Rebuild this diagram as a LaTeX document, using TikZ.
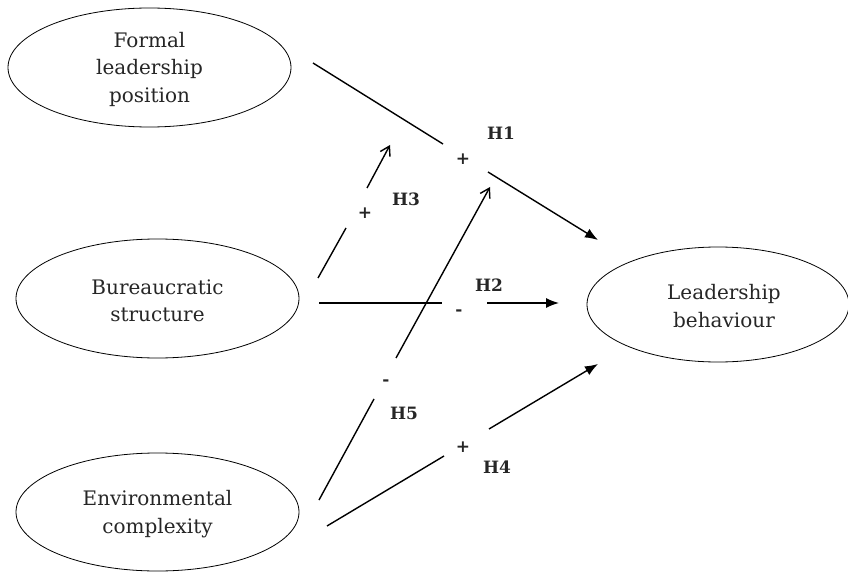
\documentclass[tikz,border=0pt]{standalone}
\usepackage{fontspec}
\setmainfont{DejaVu Serif}
\usetikzlibrary{arrows.meta}
\begin{document}
\begin{tikzpicture}[x=1pt,y=-1pt,
  ring/.style={line width=0.8pt},
  label/.style={align=center, text=black!85, font=\fontsize{20}{27.5}\selectfont},
  path/.style={line width=1.4pt},
  solidtip/.style={path, -{Latex[length=13pt,width=10pt]}},
  opentip/.style={path, -{Straight Barb[length=9pt,width=11pt]}},
  hyp/.style={text=black!85, font=\fontsize{17}{18}\selectfont\bfseries},
  sign/.style={text=black!85, font=\fontsize{17}{18}\selectfont\bfseries}]
\useasboundingbox (0,0) rectangle (848,572);
% constructs
\draw[ring] (149.5,67.5) ellipse [x radius=141.5, y radius=59.5];
\node[label] (flp) at (149.5,69) {Formal\\leadership\\position};
\draw[ring] (157.5,298.5) ellipse [x radius=141.5, y radius=59.5];
\node[label] (bs) at (157.5,301) {Bureaucratic\\structure};
\draw[ring] (157.5,512) ellipse [x radius=141.5, y radius=59];
\node[label] (ec) at (157.5,514) {Environmental\\complexity};
\draw[ring] (718,304.5) ellipse [x radius=131, y radius=57.5];
\node[label] (lb) at (724,306) {Leadership\\behaviour};
% H1
\coordinate (h1a) at (313,63); \coordinate (h1b) at (443,144);
\coordinate (h1c) at (488,172); \coordinate (h1d) at (598,240);
\draw[path] (h1a) -- (h1b);
\draw[solidtip] (h1c) -- (h1d);
\node[sign] (s1) at (463,159) {+};
\node[hyp] (H1) at (501,133) {H1};
% H3
\coordinate (h3a) at (318,278); \coordinate (h3b) at (346,228);
\coordinate (h3c) at (367,188); \coordinate (h3d) at (390,145);
\draw[path] (h3a) -- (h3b);
\draw[opentip] (h3c) -- (h3d);
\node[sign] (s3) at (365,213) {+};
\node[hyp] (H3) at (406,199) {H3};
% H5
\coordinate (h5a) at (319,500); \coordinate (h5b) at (374,399);
\coordinate (h5c) at (396,358); \coordinate (h5d) at (490,187);
\draw[path] (h5a) -- (h5b);
\draw[opentip] (h5c) -- (h5d);
\node[sign] (s5) at (386,383) {-};
\node[hyp] (H5) at (404,413) {H5};
% H2
\coordinate (h2a) at (319,303); \coordinate (h2b) at (442,303);
\coordinate (h2c) at (487,303); \coordinate (h2d) at (559,303);
\draw[path] (h2a) -- (h2b);
\draw[solidtip] (h2c) -- (h2d);
\node[sign] (s2) at (459,313) {-};
\node[hyp] (H2) at (489,285) {H2};
% H4
\coordinate (h4a) at (327,526); \coordinate (h4b) at (444,456);
\coordinate (h4c) at (489,429); \coordinate (h4d) at (598,364);
\draw[path] (h4a) -- (h4b);
\draw[solidtip] (h4c) -- (h4d);
\node[sign] (s4) at (463,447) {+};
\node[hyp] (H4) at (497,467) {H4};
\end{tikzpicture}
\end{document}
